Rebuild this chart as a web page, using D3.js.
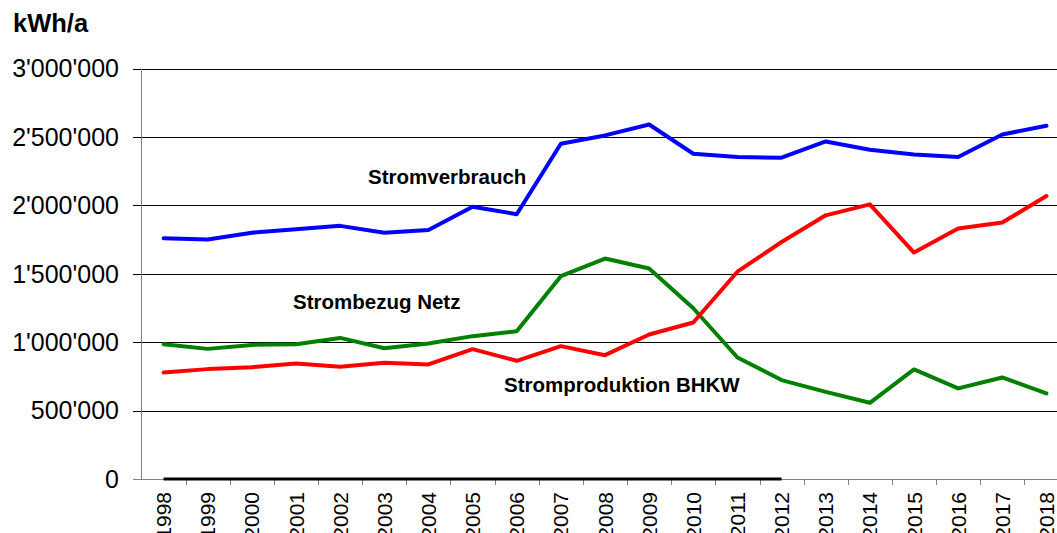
<!DOCTYPE html>
<meta charset="utf-8">
<head>
<style>
  body { margin: 0; background: #fff; }
  svg { font-family: 'Liberation Sans', Arial, sans-serif; display: block; }
  .grid line { stroke: #000; stroke-width: 1px; shape-rendering: crispEdges; }
  .axis line { stroke: #808080; stroke-width: 1px; shape-rendering: crispEdges; }
  .ylabel { font-size: 25px; fill: #000; }
  .xlabel { font-size: 21px; fill: #000; }
  .note { font-size: 20.5px; font-weight: bold; fill: #000; }
  .serie { fill: none; stroke-width: 4px; stroke-linejoin: round; stroke-linecap: round; }
</style>
</head>
<body>
<svg width="1057" height="533"></svg>
<script src="https://d3js.org/d3.v7.min.js"></script>
<script>

// Jahre
var jahre = ["1998","1999","2000","2001","2002","2003","2004","2005","2006","2007",
  "2008","2009","2010","2011","2012","2013","2014","2015","2016","2017","2018"];

// Werte in kWh/a
var stromverbrauch = [1760000,1750000,1800000,1825000,1850000,1800000,1820000,1990000,1935000,2450000,
  2511000,2591000,2377000,2353000,2348000,2467000,2406000,2372000,2353000,2518000,2582000];
var strombezugNetz = [985000,951000,980000,985000,1031000,956000,990000,1044000,1080000,1482000,
  1611000,1538000,1248000,888000,723000,637000,557000,801000,662000,742000,626000];
var stromproduktionBHKW = [779000,803000,817000,844000,820000,849000,837000,949000,864000,971000,
  905000,1056000,1144000,1515000,1732000,1927000,2007000,1655000,1830000,1874000,2068000];
// schwarze Linie auf der Nulllinie (1998-2012)
var nullSerie = [0,0,0,0,0,0,0,0,0,0,0,0,0,0,0];

var yTicks = [0,500000,1000000,1500000,2000000,2500000,3000000];

var svg = d3.select("svg");

var x = d3.scaleBand().domain(jahre).range([141.5, 1068.5]);
var y = d3.scaleLinear().domain([0, 3000000]).range([479, 68.5]);

function fmt(v) {
  return d3.format(",")(v).replace(/,/g, "'");
}

// Gitterlinien
svg.append("g").attr("class", "grid")
  .selectAll("line")
  .data(yTicks.filter(d => d > 0))
  .enter().append("line")
    .attr("x1", 133).attr("x2", 1068.5)
    .attr("y1", d => Math.round(y(d)) + 0.5)
    .attr("y2", d => Math.round(y(d)) + 0.5);

var ax = svg.append("g").attr("class", "axis");
// y-Achse
ax.append("line")
  .attr("x1", 141.5).attr("x2", 141.5)
  .attr("y1", Math.round(y(3000000))).attr("y2", Math.round(y(0)) + 0.5);
// x-Achse
ax.append("line")
  .attr("x1", 133).attr("x2", 1068.5)
  .attr("y1", Math.round(y(0)) + 0.5).attr("y2", Math.round(y(0)) + 0.5);
// Teilstriche zwischen den Jahren
ax.selectAll(".xt")
  .data(jahre.slice(1))
  .enter().append("line")
    .attr("class", "xt")
    .attr("x1", d => Math.round(x(d)) + 0.5)
    .attr("x2", d => Math.round(x(d)) + 0.5)
    .attr("y1", Math.round(y(0)))
    .attr("y2", Math.round(y(0)) + 6);

// y-Beschriftung
svg.append("g")
  .selectAll("text")
  .data(yTicks)
  .enter().append("text")
    .attr("class", "ylabel")
    .attr("x", 119)
    .attr("y", d => y(d))
    .attr("dy", "0.35em")
    .attr("text-anchor", "end")
    .text(fmt);

// x-Beschriftung (senkrecht)
svg.append("g")
  .selectAll("text")
  .data(jahre)
  .enter().append("text")
    .attr("class", "xlabel")
    .attr("text-anchor", "end")
    .attr("dy", "0.36em")
    .attr("transform", d => "translate(" + (x(d) + x.bandwidth() / 2) + ",492) rotate(-90)")
    .text(d => d);

var line = d3.line()
  .x((d, i) => x(jahre[i]) + x.bandwidth() / 2)
  .y(d => y(d));

svg.append("path").attr("class", "serie")
  .attr("d", line(nullSerie))
  .style("stroke", "#000").style("stroke-width", "3px").style("stroke-linecap", "butt");
svg.append("path").attr("class", "serie")
  .attr("d", line(strombezugNetz)).style("stroke", "#008000");
svg.append("path").attr("class", "serie")
  .attr("d", line(stromproduktionBHKW)).style("stroke", "#ff0000");
svg.append("path").attr("class", "serie")
  .attr("d", line(stromverbrauch)).style("stroke", "#0000ff");

// Beschriftungen
svg.append("text").attr("x", 13).attr("y", 32)
  .style("font-size", "25.5px").style("font-weight", "bold")
  .text("kWh/a");
svg.append("text").attr("class", "note").attr("x", 368).attr("y", 184).text("Stromverbrauch");
svg.append("text").attr("class", "note").attr("x", 293).attr("y", 309).text("Strombezug Netz");
svg.append("text").attr("class", "note").attr("x", 504).attr("y", 392).text("Stromproduktion BHKW");

</script>
</body>
